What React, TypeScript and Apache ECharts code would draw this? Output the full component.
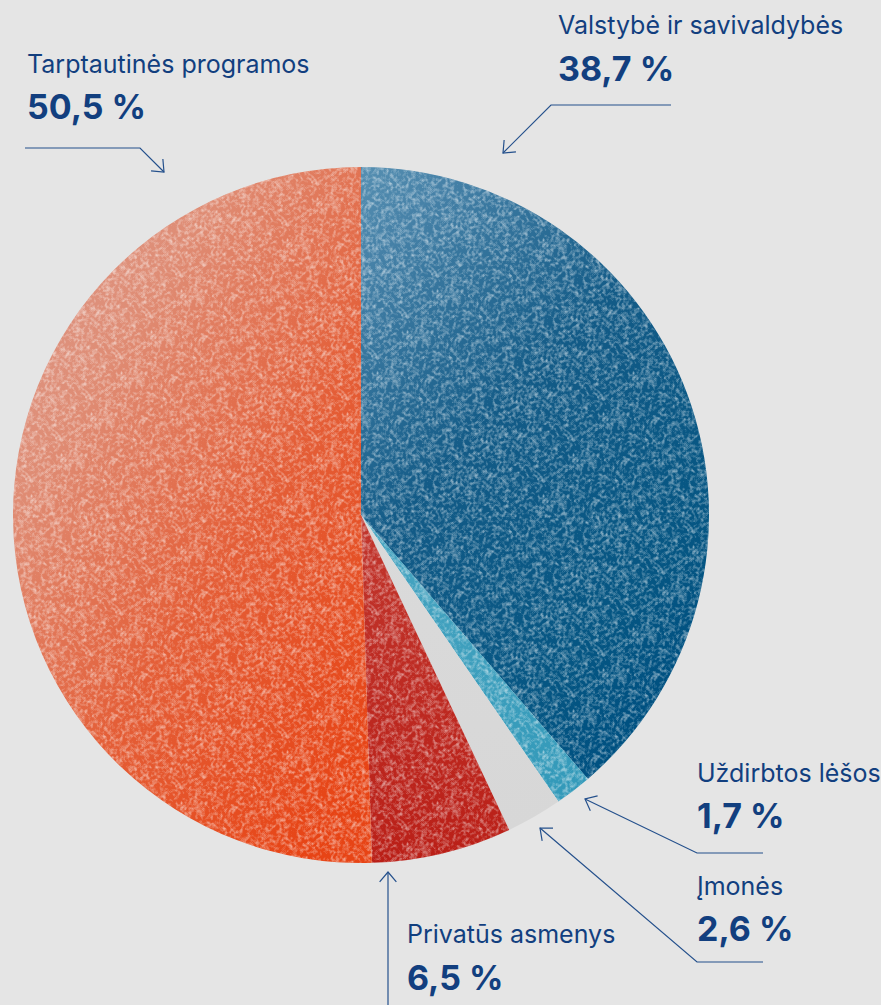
import React, { useEffect, useRef } from "react";
import * as echarts from "echarts";

const categories = [
  "Valstybė ir savivaldybės",
  "Uždirbtos lėšos",
  "Įmonės",
  "Privatūs asmenys",
  "Tarptautinės programos",
];
const shares = [38.7, 1.7, 2.6, 6.5, 50.5];

// layout (positions of labels and arrow paths), kept separate from data
const labelPos = [
  { x: 558, nameY: 25, valY: 68 },
  { x: 697, nameY: 773, valY: 815 },
  { x: 697, nameY: 886, valY: 928 },
  { x: 407, nameY: 934, valY: 977 },
  { x: 27, nameY: 64, valY: 106 },
];
const arrowPaths = [
  [[671, 105], [551, 105], [503, 153]],
  [[763, 853], [697, 853], [585, 799]],
  [[763, 962], [697, 962], [540, 828]],
  [[388, 1005], [388, 872]],
  [[25, 148], [140, 148], [164, 172]],
];

const TEXT = "#123f7f";
const LINE = "#24508c";
const FONT = "Inter, 'Noto Sans', sans-serif";
const NOISE_MEAN = 0.12;

function hexToRgb(h: string) {
  const n = parseInt(h.slice(1), 16);
  return [(n >> 16) & 255, (n >> 8) & 255, n & 255];
}
// base colour such that base + white noise (mean alpha m) averages to target
function base(h: string, m = NOISE_MEAN) {
  const c = hexToRgb(h).map((v) => Math.max(0, Math.min(255, Math.round((v - 255 * m) / (1 - m)))));
  return `rgb(${c[0]},${c[1]},${c[2]})`;
}

function grad(x2: number, y2: number, stops: [number, string][], noisy = true) {
  return new echarts.graphic.LinearGradient(
    0,
    0,
    x2,
    y2,
    stops.map(([o, c]) => ({ offset: o, color: noisy ? base(c) : c }))
  );
}

const sliceColors = [
  grad(0.6, 1, [
    [0, "#6a9cba"],
    [0.12, "#5d91b2"],
    [0.47, "#2f6f95"],
    [0.87, "#236a92"],
    [1, "#1e6690"],
  ]),
  grad(0, 1, [
    [0, "#5fb0c8"],
    [1, "#4ba5c1"],
  ]),
  grad(0, 1, [
    [0, "#dadada"],
    [1, "#d7d7d7"],
  ], false),
  grad(0, 1, [
    [0, "#c84e46"],
    [1, "#c23a33"],
  ]),
  grad(0.8, 1, [
    [0, "#dfaa9e"],
    [0.3, "#e39a85"],
    [0.63, "#e7714f"],
    [1, "#ea5a31"],
  ]),
];

// seamless (wrap-around) speckle texture used as a pattern overlay
function makeNoise(): HTMLCanvasElement {
  const S = 256;
  let seed = 1234567;
  const rnd = () => {
    seed = (seed * 1103515245 + 12345) & 0x7fffffff;
    return seed / 0x7fffffff;
  };
  const raw = new Float32Array(S * S);
  for (let i = 0; i < S * S; i++) raw[i] = rnd();
  const blur = new Float32Array(S * S);
  for (let y = 0; y < S; y++) {
    for (let x = 0; x < S; x++) {
      let s = 0;
      for (let dy = -1; dy <= 1; dy++) {
        for (let dx = -1; dx <= 1; dx++) {
          const w = dx === 0 && dy === 0 ? 2 : 1;
          s += w * raw[((y + dy + S) % S) * S + ((x + dx + S) % S)];
        }
      }
      blur[y * S + x] = s / 10;
    }
  }
  const alpha = new Float32Array(S * S);
  let sum = 0;
  for (let i = 0; i < S * S; i++) {
    const z = (blur[i] - 0.5) / 0.1;
    const a = Math.max(0, 0.1 + 0.13 * z);
    alpha[i] = a;
    sum += a;
  }
  const k = NOISE_MEAN / (sum / (S * S));
  const c = document.createElement("canvas");
  c.width = S;
  c.height = S;
  const ctx = c.getContext("2d")!;
  const img = ctx.createImageData(S, S);
  for (let i = 0; i < S * S; i++) {
    const a = Math.min(0.6, alpha[i] * k);
    img.data[i * 4] = 255;
    img.data[i * 4 + 1] = 255;
    img.data[i * 4 + 2] = 255;
    img.data[i * 4 + 3] = Math.round(a * 255);
  }
  ctx.putImageData(img, 0, 0);
  return c;
}

function arrowHead(path: number[][]) {
  const tip = path[path.length - 1];
  const prev = path[path.length - 2];
  const ang = Math.atan2(prev[1] - tip[1], prev[0] - tip[0]);
  const L = 13;
  const spread = (40 * Math.PI) / 180;
  return [
    [tip[0] + L * Math.cos(ang + spread), tip[1] + L * Math.sin(ang + spread)],
    tip,
    [tip[0] + L * Math.cos(ang - spread), tip[1] + L * Math.sin(ang - spread)],
  ];
}

export default function App() {
  const ref = useRef<HTMLDivElement>(null);
  useEffect(() => {
    if (!ref.current) return;
    const chart = echarts.init(ref.current, undefined, { renderer: "svg" });
    const noise = makeNoise();
    const graphics: any[] = [];
    categories.forEach((name, i) => {
      const p = labelPos[i];
      graphics.push({
        type: "text",
        x: p.x,
        y: p.nameY,
        style: {
          text: name,
          fill: TEXT,
          font: `400 25px ${FONT}`,
          textAlign: "left",
          textVerticalAlign: "middle",
        },
      });
      graphics.push({
        type: "text",
        x: p.x,
        y: p.valY,
        style: {
          text: shares[i].toFixed(1).replace(".", ",") + " %",
          fill: TEXT,
          font: `700 34px ${FONT}`,
          textAlign: "left",
          textVerticalAlign: "middle",
        },
      });
      const path = arrowPaths[i];
      graphics.push({
        type: "polyline",
        shape: { points: path },
        style: { stroke: LINE, lineWidth: 1.2, fill: "none" },
      });
      graphics.push({
        type: "polyline",
        shape: { points: arrowHead(path) },
        style: { stroke: LINE, lineWidth: 1.2, fill: "none" },
      });
    });

    const common = {
      type: "pie",
      center: [361, 515],
      radius: [0, 348],
      startAngle: 90,
      clockwise: true,
      label: { show: false },
      labelLine: { show: false },
      emphasis: { disabled: true },
    };

    chart.setOption({
      animation: false,
      backgroundColor: "#e5e5e5",
      series: [
        {
          ...common,
          itemStyle: { borderWidth: 0 },
          data: categories.map((name, i) => ({
            name,
            value: shares[i],
            itemStyle: { color: sliceColors[i] },
          })),
        },
        {
          ...common,
          silent: true,
          itemStyle: { borderWidth: 0 },
          data: categories.map((name, i) => ({
            name,
            value: shares[i],
            itemStyle: {
              color: i === 2 ? "rgba(0,0,0,0)" : { image: noise, repeat: "repeat" },
            },
          })),
        },
      ],
      graphic: graphics,
    });
    return () => chart.dispose();
  }, []);
  return (
    <div
      ref={ref}
      style={{ position: "fixed", left: 0, top: 0, width: 881, height: 1005 }}
    />
  );
}
